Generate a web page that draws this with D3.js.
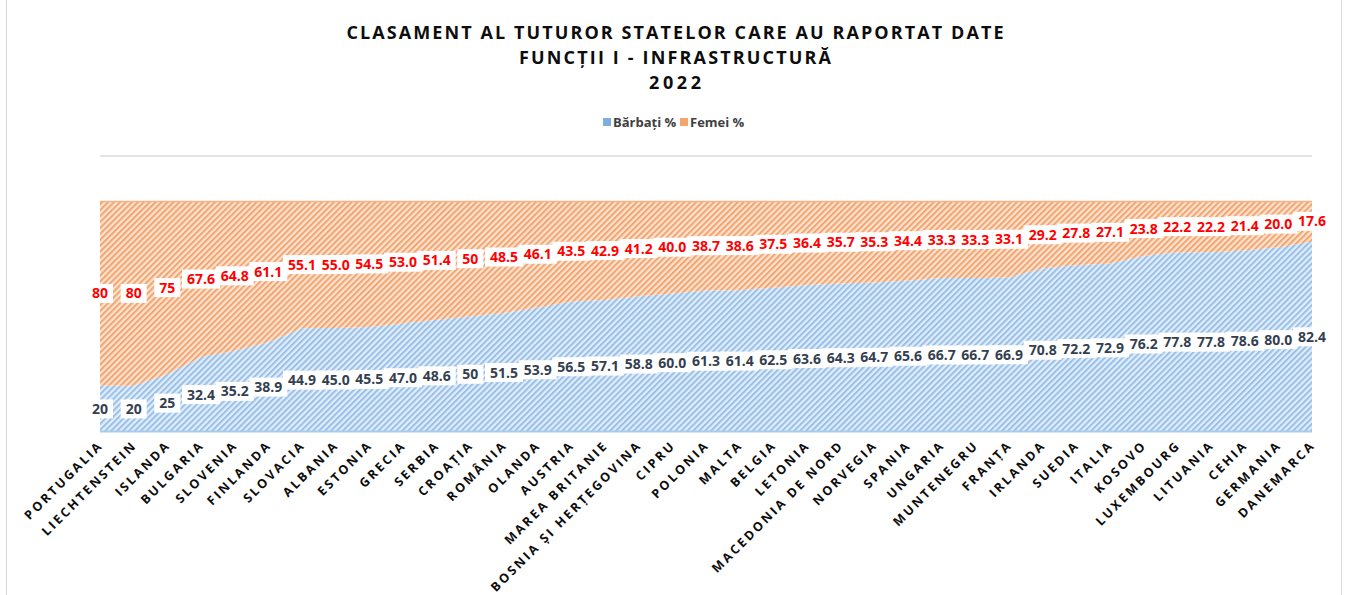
<!DOCTYPE html>
<meta charset="utf-8">
<style>
body { margin: 0; background: #fff; }
svg { display: block; font-family: "Open Sans", "Noto Sans", sans-serif; }
.title { font-size: 18px; font-weight: bold; fill: #0d0d0d; }
.legend text { font-size: 13px; font-weight: bold; fill: #404040; }
.xlab { font-size: 12.5px; font-weight: bold; fill: #0d0d0d; letter-spacing: 2.5px; }
.lbl { font-size: 14px; font-weight: bold; }
</style>
<svg width="1351" height="595"></svg>
<script src="https://cdn.jsdelivr.net/npm/d3@7"></script>
<script>

var countries = ["PORTUGALIA", "LIECHTENSTEIN", "ISLANDA", "BULGARIA", "SLOVENIA", "FINLANDA",
  "SLOVACIA", "ALBANIA", "ESTONIA", "GRECIA", "SERBIA", "CROAȚIA", "ROMÂNIA", "OLANDA",
  "AUSTRIA", "MAREA BRITANIE", "BOSNIA ȘI HERȚEGOVINA", "CIPRU", "POLONIA", "MALTA",
  "BELGIA", "LETONIA", "MACEDONIA DE NORD", "NORVEGIA", "SPANIA", "UNGARIA", "MUNTENEGRU",
  "FRANȚA", "IRLANDA", "SUEDIA", "ITALIA", "KOSOVO", "LUXEMBOURG", "LITUANIA", "CEHIA",
  "GERMANIA", "DANEMARCA"];

// values as printed in the data labels
var barbati = ["20", "20", "25", "32.4", "35.2", "38.9", "44.9", "45.0", "45.5", "47.0",
  "48.6", "50", "51.5", "53.9", "56.5", "57.1", "58.8", "60.0", "61.3", "61.4", "62.5",
  "63.6", "64.3", "64.7", "65.6", "66.7", "66.7", "66.9", "70.8", "72.2", "72.9", "76.2",
  "77.8", "77.8", "78.6", "80.0", "82.4"];

var femei = ["80", "80", "75", "67.6", "64.8", "61.1", "55.1", "55.0", "54.5", "53.0",
  "51.4", "50", "48.5", "46.1", "43.5", "42.9", "41.2", "40.0", "38.7", "38.6", "37.5",
  "36.4", "35.7", "35.3", "34.4", "33.3", "33.3", "33.1", "29.2", "27.8", "27.1", "23.8",
  "22.2", "22.2", "21.4", "20.0", "17.6"];

var seriesNames = ["Bărbați %", "Femei %"];
var titleLines = ["CLASAMENT AL TUTUROR STATELOR CARE AU RAPORTAT DATE",
  "FUNCȚII I - INFRASTRUCTURĂ", "2022"];

var svg = d3.select('svg'),
    width = +svg.attr("width"),
    height = +svg.attr("height");

var plot = {left: 100, right: 1312, top: 201, bottom: 432};

var rows = countries.map(function(c, i) {
  return {country: c, b: +barbati[i], f: +femei[i], bl: barbati[i], fl: femei[i]};
});

var x = d3.scalePoint()
    .domain(countries)
    .range([plot.left, plot.right]);

var y = d3.scaleLinear()
    .domain([0, 1])
    .range([plot.bottom, plot.top]);

var stack = d3.stack()
    .keys(["b", "f"])
    .offset(d3.stackOffsetExpand);
var layers = stack(rows);

// chart frame
svg.append('line').attr('x1', 6.5).attr('x2', 6.5).attr('y1', 0).attr('y2', height)
   .attr('stroke', '#d9d9d9');
svg.append('line').attr('x1', 1341.5).attr('x2', 1341.5).attr('y1', 0).attr('y2', height)
   .attr('stroke', '#d9d9d9');

// hatch patterns
var defs = svg.append('defs');
function hatch(id, bg, stripe) {
  var p = defs.append('pattern')
      .attr('id', id)
      .attr('patternUnits', 'userSpaceOnUse')
      .attr('width', 4.2)
      .attr('height', 4.2)
      .attr('patternTransform', 'rotate(45)');
  p.append('rect').attr('width', 4.2).attr('height', 4.2).attr('fill', bg);
  p.append('rect').attr('width', 2).attr('height', 4.2).attr('fill', stripe);
}
hatch('hatchBlue', '#e1edf9', '#98c0e8');
hatch('hatchOrange', '#fce2d0', '#f2a56f');

// title
svg.selectAll('.title')
   .data(titleLines)
   .enter()
   .append('text')
   .attr('class', 'title')
   .attr('x', 675)
   .attr('y', function(d, i) { return 39 + i * 25; })
   .attr('text-anchor', 'middle')
   .attr('textLength', function(d, i) { return [657, 312, 52][i]; })
   .attr('lengthAdjust', 'spacing')
   .text(function(d) { return d; });

// legend
var legendColors = ['#7eaee0', '#f2a56f'];
var legendX = [603, 680];
var legend = svg.append('g').attr('class', 'legend');
seriesNames.forEach(function(name, i) {
  legend.append('rect')
        .attr('x', legendX[i]).attr('y', 118)
        .attr('width', 8).attr('height', 8)
        .attr('fill', legendColors[i]);
  legend.append('text')
        .attr('x', legendX[i] + 10).attr('y', 127)
        .text(name);
});

// top gridline
svg.append('line')
   .attr('x1', plot.left).attr('x2', plot.right)
   .attr('y1', 156).attr('y2', 156)
   .attr('stroke', '#e3e3e3')
   .attr('stroke-width', 2);

// areas
var area = d3.area()
    .x(function(d) { return x(d.data.country); })
    .y0(function(d) { return y(d[0]); })
    .y1(function(d) { return y(d[1]); });

var fills = ['url(#hatchBlue)', 'url(#hatchOrange)'];
var edges = ['#a9cbeb', '#f4b387'];

svg.selectAll('.layer')
   .data(layers)
   .enter()
   .append('path')
   .attr('class', 'layer')
   .attr('d', area)
   .attr('fill', function(d, i) { return fills[i]; });

// soft outline of the bottom of the blue area
svg.append('line')
   .attr('x1', plot.left).attr('x2', plot.right)
   .attr('y1', plot.bottom - 0.5).attr('y2', plot.bottom - 0.5)
   .attr('stroke', edges[0]).attr('stroke-width', 2);
svg.append('line')
   .attr('x1', plot.left).attr('x2', plot.right)
   .attr('y1', plot.top + 0.5).attr('y2', plot.top + 0.5)
   .attr('stroke', edges[1]).attr('stroke-width', 1.5);

// data labels
var labelColors = ['#333f50', '#ff0000'];
var labelGroup = svg.append('g');
layers.forEach(function(layer, li) {
  layer.forEach(function(d) {
    var cx = x(d.data.country),
        cy = y((d[0] + d[1]) / 2),
        txt = li == 0 ? d.data.bl : d.data.fl;
    var g = labelGroup.append('g').attr('transform', 'translate(' + cx + ',' + cy + ')');
    var t = g.append('text')
        .attr('class', 'lbl')
        .attr('text-anchor', 'middle')
        .attr('dy', '0.36em')
        .attr('fill', labelColors[li])
        .text(txt);
    var w = t.node().getComputedTextLength() + 10;
    g.insert('rect', 'text')
     .attr('x', -w / 2).attr('y', -9.5)
     .attr('width', w).attr('height', 19)
     .attr('fill', '#fff');
  });
});

// category labels
svg.selectAll('.xlab')
   .data(countries)
   .enter()
   .append('text')
   .attr('class', 'xlab')
   .attr('text-anchor', 'end')
   .attr('transform', function(d) { return 'translate(' + (x(d) + 4) + ',' + 446 + ') rotate(-45)'; })
   .text(function(d) { return d; });

</script>
